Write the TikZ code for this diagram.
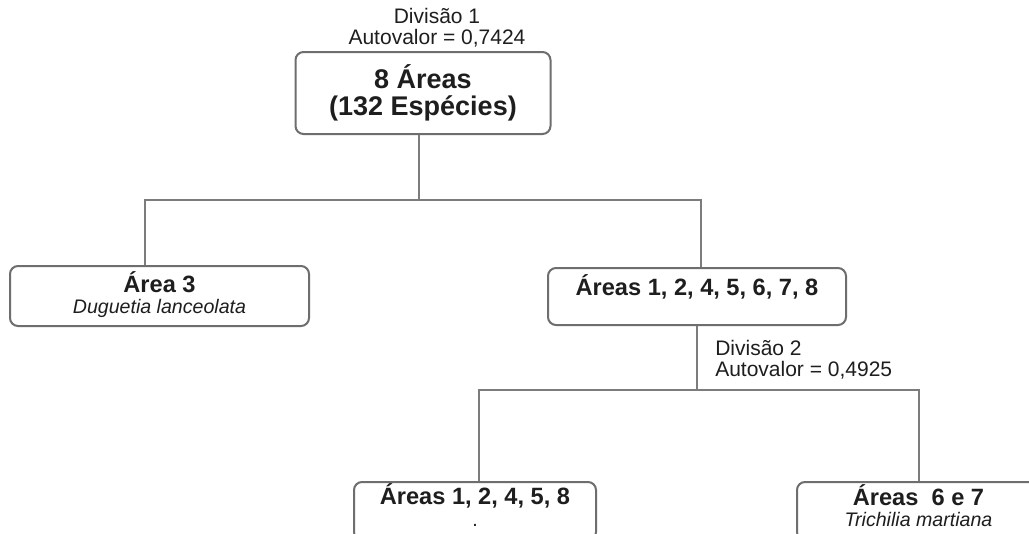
\documentclass[tikz,border=0pt]{standalone}
\usepackage{fontspec}
\setmainfont{Liberation Sans}
\usetikzlibrary{calc}
\definecolor{boxc}{HTML}{6E6E6E}
\definecolor{linec}{HTML}{7C7C7C}
\definecolor{txt}{HTML}{1E1E1E}
\begin{document}
\begin{tikzpicture}[x=0.75pt,y=-0.75pt,
  box/.style={draw=boxc, line width=1.5pt, rounded corners=6pt, inner sep=0pt, align=center, text=txt},
  conn/.style={draw=linec, line width=1.5pt},
  lbl/.style={text=txt, inner sep=0pt}]
\useasboundingbox (0,0) rectangle (1029,533);
\clip (0,0) rectangle (1029,533);
\fill[white] (0,0) rectangle (1029,533);

\node[box, minimum width=191.25pt, minimum height=61.5pt,
  font=\fontsize{20.25}{20.5}\selectfont\bfseries] (top) at (423,93) {8 Áreas\\(132 Espécies)};

\node[box, minimum width=224.25pt, minimum height=45pt,
  font=\fontsize{17.7}{15.5}\selectfont\bfseries] (a3) at (159.5,296)
  {Área 3\\{\mdseries\itshape\fontsize{14.7}{15.5}\selectfont Duguetia lanceolata}\\[-10pt]\mbox{}};

\node[box, minimum width=223.5pt, minimum height=42.75pt,
  font=\fontsize{17.7}{15.5}\selectfont\bfseries] (a1) at (697,296.5)
  {Áreas 1, 2, 4, 5, 6, 7, 8\\[2pt]\mbox{}};

\node[box, minimum width=181.5pt, minimum height=43.5pt,
  font=\fontsize{17.7}{17}\selectfont\bfseries] (bl) at (475,511)
  {Áreas 1, 2, 4, 5, 8\\{\mdseries\fontsize{14.7}{17}\selectfont .}\\[-8pt]\mbox{}};

\node[box, minimum width=182.25pt, minimum height=43.5pt,
  font=\fontsize{17.7}{15.75}\selectfont\bfseries] (br) at (918.5,511)
  {Áreas\ \ 6 e 7\\{\mdseries\itshape\fontsize{14.7}{15.75}\selectfont Trichilia martiana}\\[-7pt]\mbox{}};

\node[lbl, align=center, font=\fontsize{15.75}{15.75}\selectfont] (d1) at (437,28)
  {Divisão 1\\Autovalor = 0,7424};

\node[lbl, align=left, anchor=west, font=\fontsize{15.75}{15.75}\selectfont] (d2) at (715,359.5)
  {Divisão 2\\Autovalor = 0,4925};

\coordinate (j1) at (419,200);
\coordinate (j2) at (697,390);
\draw[conn] (top.south -| j1) -- (j1);
\draw[conn] ([xshift=-11.25pt]a3.north) |- (j1) -| ([xshift=3pt]a1.north);
\draw[conn] (a1.south) -- (a1.south |- j2);
\draw[conn] ([xshift=3pt]bl.north) |- (j2) -| (br.north);
\end{tikzpicture}
\end{document}
